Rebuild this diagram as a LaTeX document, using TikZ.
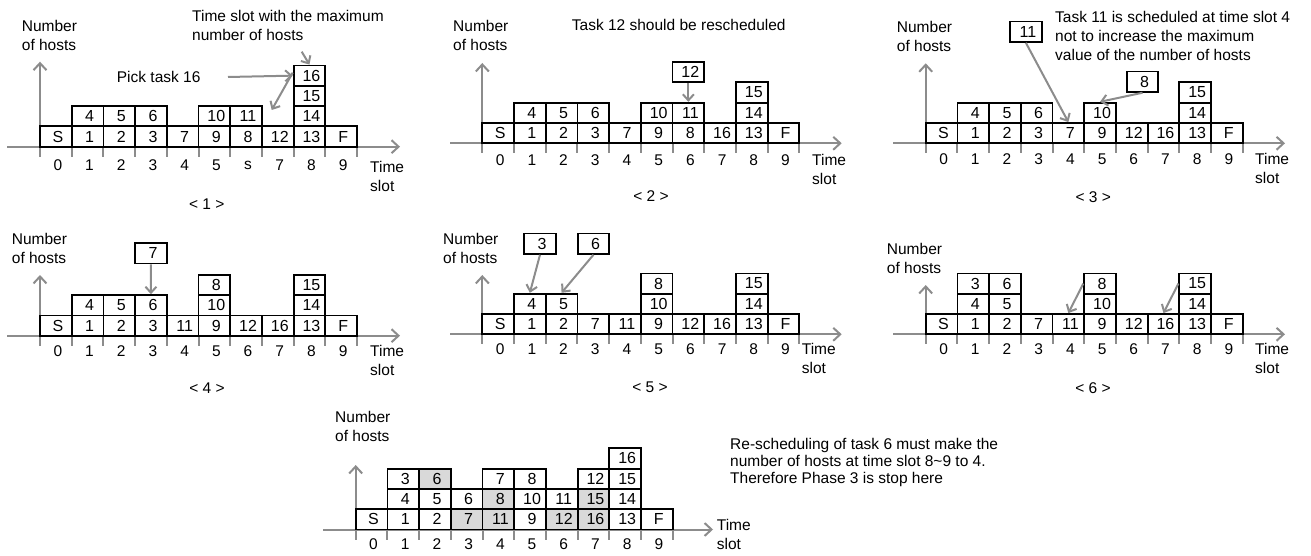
\documentclass[tikz,border=0pt]{standalone}
\usepackage{fontspec}
\setmainfont{Liberation Sans}
\usetikzlibrary{arrows.meta}
\definecolor{axgray}{RGB}{140,140,140}
\definecolor{shade}{RGB}{217,217,217}
\newcommand\myfs{\fontsize{15.5}{19}\selectfont}
\newcommand\cellfs{\fontsize{16}{19}\selectfont}
\def\cw{31.7}
\def\ch{20.3}
\tikzset{
  cellbox/.style={draw=black, line width=1.8pt, fill=white, minimum width=31.7pt,
    minimum height=20.3pt, inner sep=0pt, font=\cellfs},
  axisline/.style={draw=axgray, line width=2pt, -{Straight Barb[length=7pt,width=13pt]}},
  annarrow/.style={draw=axgray, line width=2pt, -{Straight Barb[length=6pt,width=11pt]}},
  tickline/.style={draw=axgray, line width=2pt},
  lab/.style={font=\myfs, inner sep=0pt},
  txt/.style={font=\myfs, inner sep=0pt, align=left, anchor=west},
}
% \cell[opts]{name}{x0}{y0}{slot}{row}{label}
\newcommand\cell[7][]{\node[cellbox,#1] (#2) at ({#3+(#5+0.5)*\cw},{#4-(#6-0.5)*\ch}) {\hspace*{4pt}#7};}
% \axes{id}{x0}{y0}{left}{right}{vtop}
\newcommand\axes[6]{%
  \coordinate (#1-hl) at (#4,#3); \coordinate (#1-hr) at (#5,#3);
  \coordinate (#1-o) at (#2,#3); \coordinate (#1-vt) at (#2,#6);
  \draw[axisline] (#1-hl) -- (#1-hr);
  \draw[axisline] (#1-o) -- (#1-vt);}
% \ticks{id}{x0}{y0}{label y}{list}
\newcommand\ticks[5]{%
  \foreach \k in {0,...,10} \draw[tickline] ({#2+\k*\cw},#3-3) -- ({#2+\k*\cw},#3+10);
  \foreach \t [count=\k from 0] in {#5} \node[lab] (#1-t\k) at ({#2+(\k+0.5)*\cw+2},#4) {\t};}
\begin{document}
\begin{tikzpicture}[x=1pt,y=-1pt]
\useasboundingbox (0,0) rectangle (1311,556);

% ---------------- Panel 1 ----------------
\axes{p1}{40}{146.7}{7}{400}{61.7}
\ticks{p1}{40}{146.7}{165}{0,1,2,3,4,5,s,7,8,9}
\foreach \lab [count=\s from 0] in {S,1,2,3,7,9,8,12,13,F} {\cell{p1-\s-1}{40}{146.7}{\s}{1}{\lab}}
\foreach \s/\lab in {1/4,2/5,3/6,5/10,6/11,8/14} {\cell{p1-\s-2}{40}{146.7}{\s}{2}{\lab}}
\cell{p1-8-3}{40}{146.7}{8}{3}{15}
\cell{p1-8-4}{40}{146.7}{8}{4}{16}
\node[txt] (p1-ny) at (21.7,35.8) {Number\\of hosts};
\node[txt] (p1-ts) at (370,176.7) {Time\\slot};
\node[lab] (p1-cap) at (206.7,204) {< 1 >};
\node[txt] (p1-max) at (192,25) {Time slot with the maximum\\number of hosts};
\node[txt] (p1-pick) at (116.7,77) {Pick task 16};
\coordinate (p1-a1) at (228,77);
\coordinate (p1-a2) at (271.7,110);
\coordinate (p1-a3) at (301.7,51.7);
\draw[annarrow] (p1-a1) -- (p1-8-4.west);
\draw[annarrow] ([yshift=3pt]p1-8-4.west) -- (p1-a2);
\draw[annarrow] (p1-a3) -- (p1-8-4.north);

% ---------------- Panel 2 ----------------
\axes{p2}{482.3}{143.3}{450}{841.7}{63}
\ticks{p2}{482.3}{143.3}{160}{0,1,2,3,4,5,6,7,8,9}
\foreach \lab [count=\s from 0] in {S,1,2,3,7,9,8,16,13,F} {\cell{p2-\s-1}{482.3}{143.3}{\s}{1}{\lab}}
\foreach \s/\lab in {1/4,2/5,3/6,5/10,6/11,8/14} {\cell{p2-\s-2}{482.3}{143.3}{\s}{2}{\lab}}
\cell{p2-8-3}{482.3}{143.3}{8}{3}{15}
\cell{p2-6-4}{482.3}{143.3}{6}{4}{12}
\draw[annarrow] (p2-6-4.south) -- (p2-6-2.north);
\node[txt] (p2-ny) at (453,35) {Number\\of hosts};
\node[txt] (p2-ts) at (812,169) {Time\\slot};
\node[lab] (p2-cap) at (651,196) {< 2 >};
\node[txt] (p2-note) at (571.7,25) {Task 12 should be rescheduled};

% ---------------- Panel 3 ----------------
\axes{p3}{925.7}{143.3}{893}{1285}{63.3}
\ticks{p3}{925.7}{143.3}{159.5}{0,1,2,3,4,5,6,7,8,9}
\foreach \lab [count=\s from 0] in {S,1,2,3,7,9,12,16,13,F} {\cell{p3-\s-1}{925.7}{143.3}{\s}{1}{\lab}}
\foreach \s/\lab in {1/4,2/5,3/6,5/10,8/14} {\cell{p3-\s-2}{925.7}{143.3}{\s}{2}{\lab}}
\cell{p3-8-3}{925.7}{143.3}{8}{3}{15}
\node[cellbox] (p3-f11) at (1025.85,31.7) {\hspace*{4pt}11};
\node[cellbox] (p3-f8) at (1142.5,81.7) {\hspace*{4pt}8};
\draw[annarrow] (p3-f11.south) -- (p3-4-1.north);
\draw[annarrow] (p3-f8.south) -- (p3-5-2.north);
\node[txt] (p3-ny) at (896.7,36) {Number\\of hosts};
\node[txt] (p3-ts) at (1255,168) {Time\\slot};
\node[lab] (p3-cap) at (1093.3,196.7) {< 3 >};
\node[txt] (p3-note) at (1055,35.8) {Task 11 is scheduled at time slot 4\\not to increase the maximum\\value of the number of hosts};

% ---------------- Panel 4 ----------------
\axes{p4}{40}{335.7}{7}{400}{275}
\ticks{p4}{40}{335.7}{351}{0,1,2,3,4,5,6,7,8,9}
\foreach \lab [count=\s from 0] in {S,1,2,3,11,9,12,16,13,F} {\cell{p4-\s-1}{40}{335.7}{\s}{1}{\lab}}
\foreach \s/\lab in {1/4,2/5,3/6,5/10,8/14} {\cell{p4-\s-2}{40}{335.7}{\s}{2}{\lab}}
\cell{p4-5-3}{40}{335.7}{5}{3}{8}
\cell{p4-8-3}{40}{335.7}{8}{3}{15}
\node[cellbox] (p4-f7) at (150.95,253.3) {\hspace*{4pt}7};
\draw[annarrow] (p4-f7.south) -- (p4-3-2.north);
\node[txt] (p4-ny) at (11.7,248) {Number\\of hosts};
\node[txt] (p4-ts) at (370,360) {Time\\slot};
\node[lab] (p4-cap) at (207,388) {< 4 >};

% ---------------- Panel 5 ----------------
\axes{p5}{482.3}{334.3}{450}{841.7}{275}
\ticks{p5}{482.3}{334.3}{349.5}{0,1,2,3,4,5,6,7,8,9}
\foreach \lab [count=\s from 0] in {S,1,2,7,11,9,12,16,13,F} {\cell{p5-\s-1}{482.3}{334.3}{\s}{1}{\lab}}
\foreach \s/\lab in {1/4,2/5,5/10,8/14} {\cell{p5-\s-2}{482.3}{334.3}{\s}{2}{\lab}}
\cell{p5-5-3}{482.3}{334.3}{5}{3}{8}
\cell{p5-8-3}{482.3}{334.3}{8}{3}{15}
\node[cellbox] (p5-f3) at (540,243.7) {\hspace*{4pt}3};
\node[cellbox] (p5-f6) at (593.5,243.7) {\hspace*{4pt}6};
\draw[annarrow] (p5-f3.south) -- (p5-1-2.north);
\draw[annarrow] (p5-f6.south) -- (p5-2-2.north);
\node[txt] (p5-ny) at (443,248) {Number\\of hosts};
\node[txt] (p5-ts) at (801.7,358) {Time\\slot};
\node[lab] (p5-cap) at (650,387) {< 5 >};

% ---------------- Panel 6 ----------------
\axes{p6}{925.7}{334.3}{893}{1285}{285}
\ticks{p6}{925.7}{334.3}{349.5}{0,1,2,3,4,5,6,7,8,9}
\foreach \lab [count=\s from 0] in {S,1,2,7,11,9,12,16,13,F} {\cell{p6-\s-1}{925.7}{334.3}{\s}{1}{\lab}}
\foreach \s/\lab in {1/4,2/5,5/10,8/14} {\cell{p6-\s-2}{925.7}{334.3}{\s}{2}{\lab}}
\foreach \s/\lab in {1/3,2/6,5/8,8/15} {\cell{p6-\s-3}{925.7}{334.3}{\s}{3}{\lab}}
\draw[annarrow] (p6-5-3.west) -- (p6-4-1.north);
\draw[annarrow] (p6-8-3.west) -- (p6-7-1.north);
\node[txt] (p6-ny) at (886.7,258) {Number\\of hosts};
\node[txt] (p6-ts) at (1255,358) {Time\\slot};
\node[lab] (p6-cap) at (1093,388) {< 6 >};

% ---------------- Panel 7 ----------------
\axes{p7}{355.7}{529.5}{323}{713}{465}
\ticks{p7}{355.7}{529.5}{544}{0,1,2,3,4,5,6,7,8,9}
\foreach \lab/\f [count=\s from 0] in {S/white,1/white,2/white,7/shade,11/shade,9/white,12/shade,16/shade,13/white,F/white} {\cell[fill=\f]{p7-\s-1}{355.7}{529.5}{\s}{1}{\lab}}
\foreach \s/\lab/\f in {1/4/white,2/5/white,3/6/white,4/8/shade,5/10/white,6/11/white,7/15/shade,8/14/white} {\cell[fill=\f]{p7-\s-2}{355.7}{529.5}{\s}{2}{\lab}}
\foreach \s/\lab/\f in {1/3/white,2/6/shade,4/7/white,5/8/white,7/12/white,8/15/white} {\cell[fill=\f]{p7-\s-3}{355.7}{529.5}{\s}{3}{\lab}}
\cell{p7-8-4}{355.7}{529.5}{8}{4}{16}
\node[txt] (p7-ny) at (335,426) {Number\\of hosts};
\node[txt] (p7-ts) at (716.7,534) {Time\\slot};
\node[txt, font=\fontsize{15.5}{17}\selectfont] (p7-note) at (730,462) {Re-scheduling of task 6 must make the\\number of hosts at time slot 8\textasciitilde 9 to 4.\\Therefore Phase 3 is stop here};
\end{tikzpicture}
\end{document}
